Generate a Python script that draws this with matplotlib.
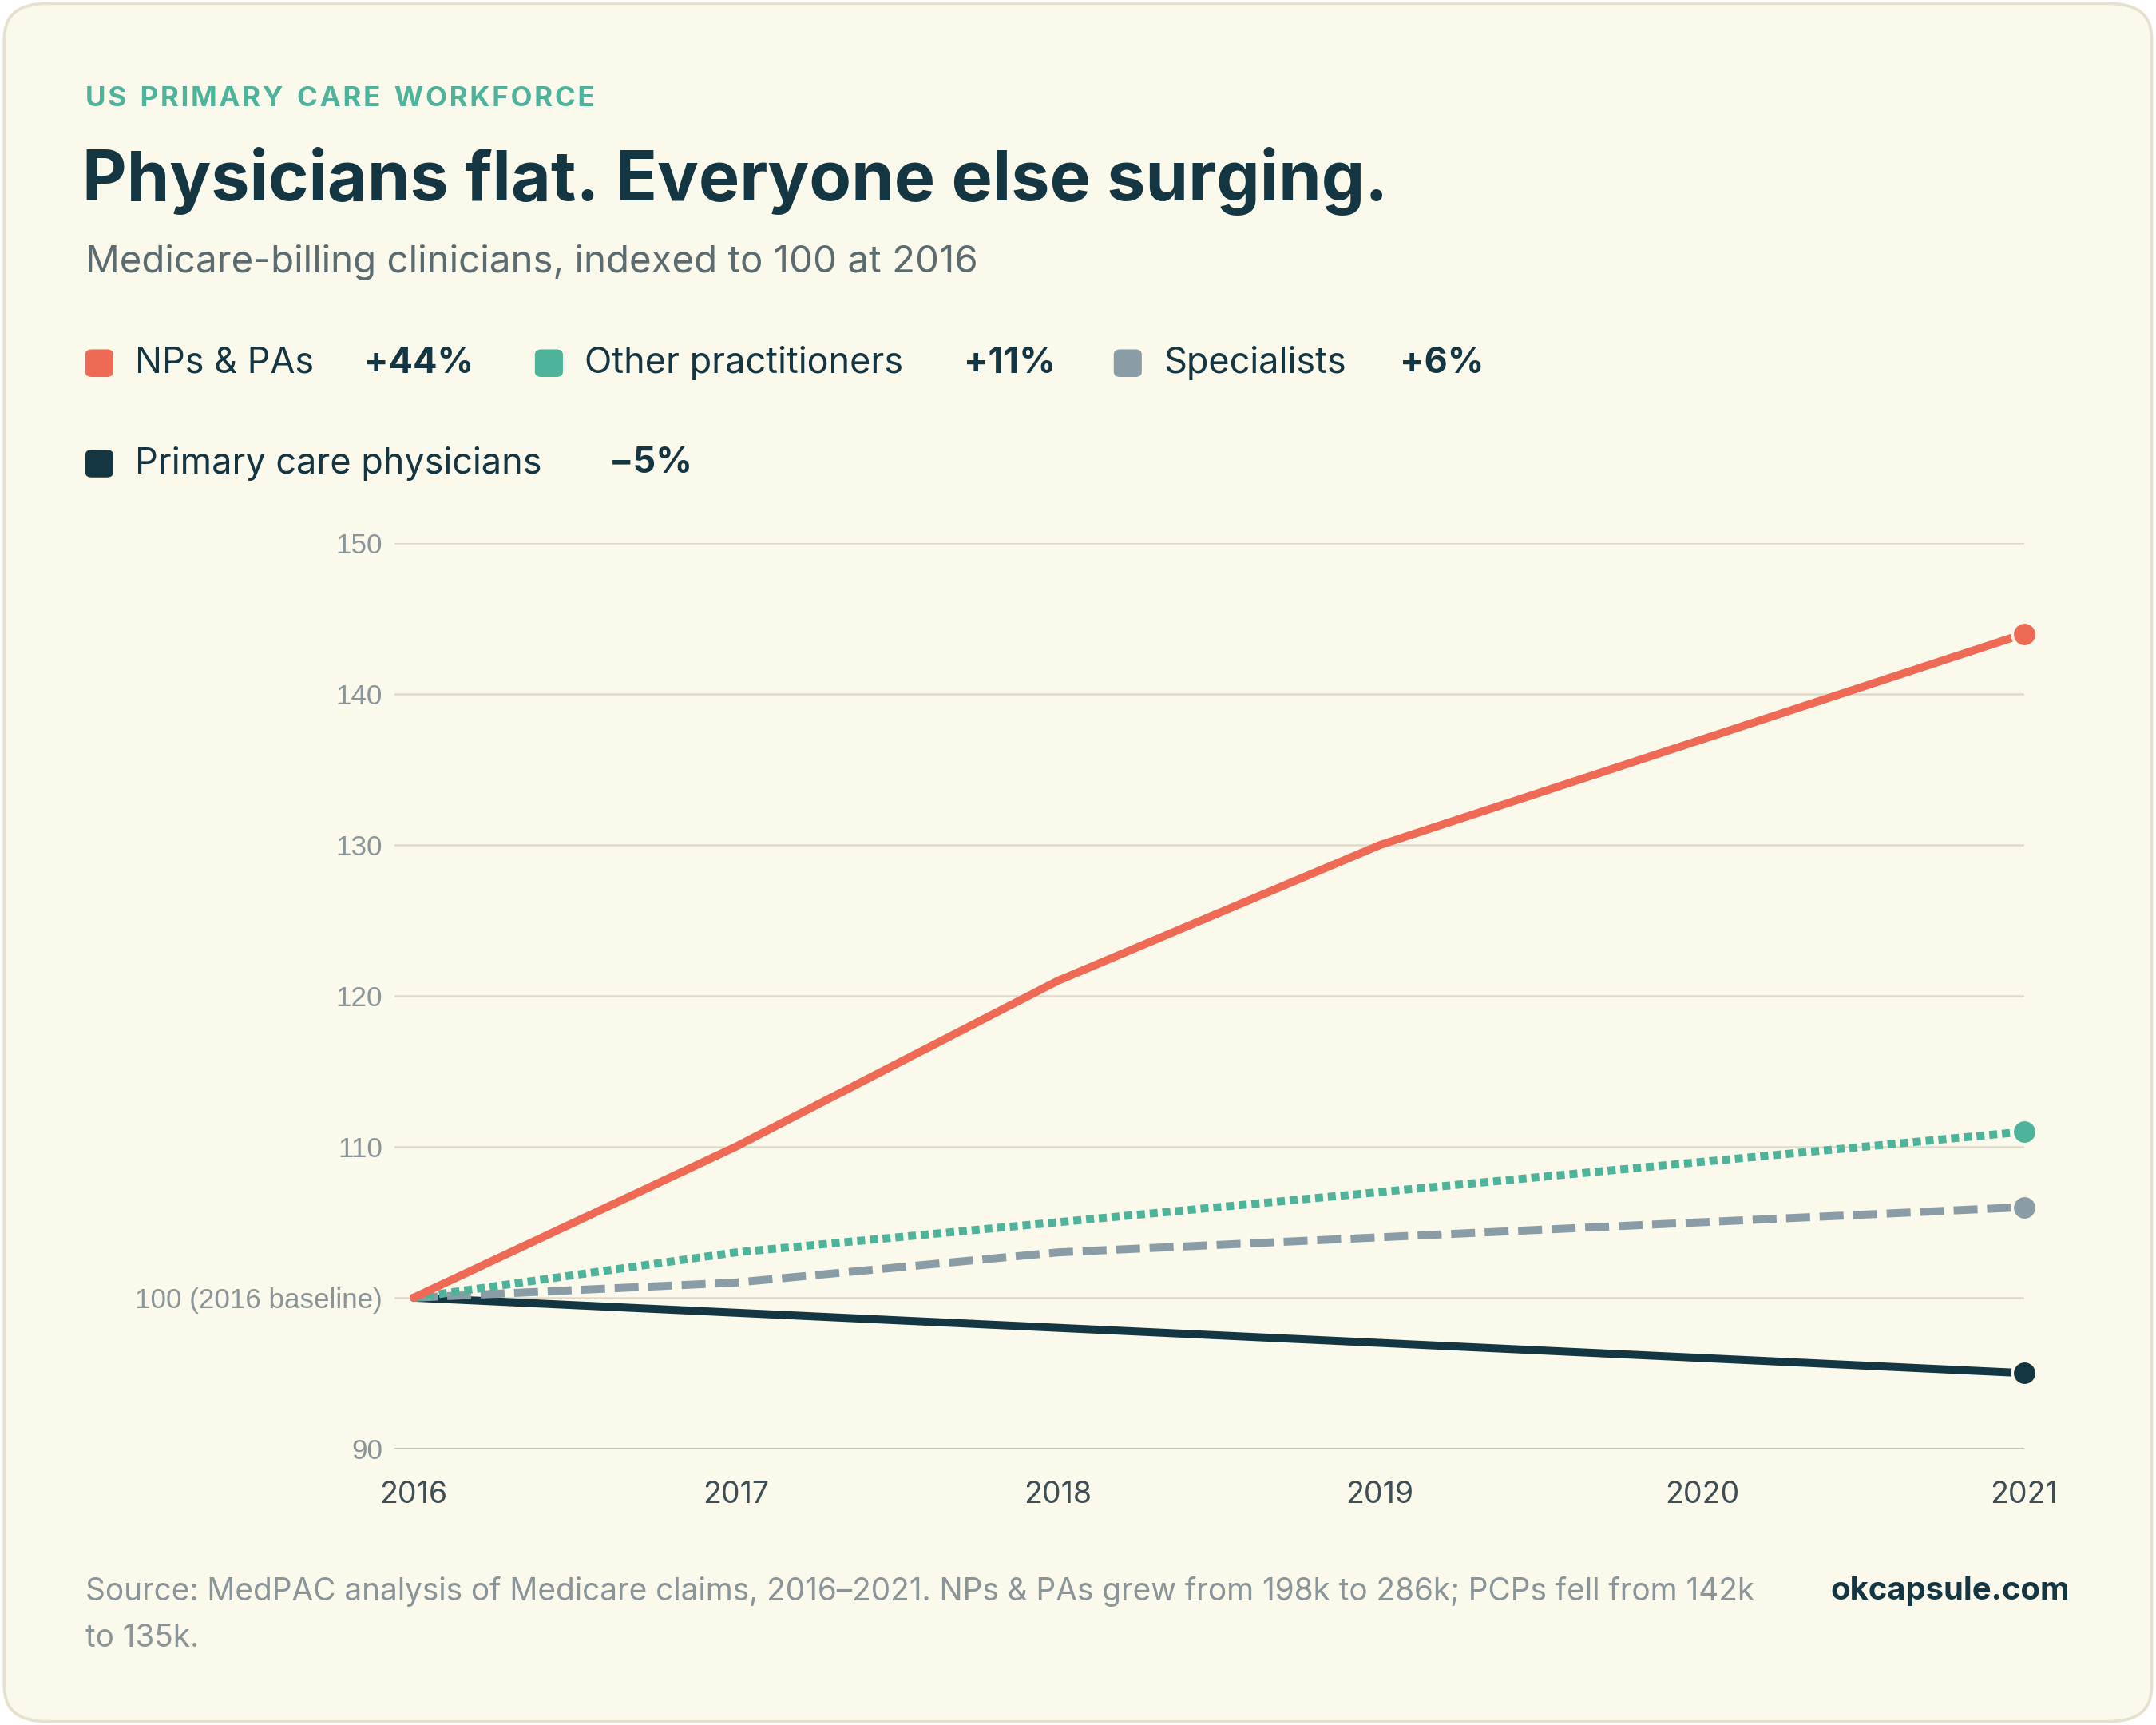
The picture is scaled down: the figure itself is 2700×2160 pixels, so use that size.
import matplotlib.pyplot as plt
from matplotlib.patches import FancyBboxPatch

years = [2016, 2017, 2018, 2019, 2020, 2021]
np_pa = [100, 110, 121, 130, 137, 144]
other = [100, 103, 105, 107, 109, 111]
specialists = [100, 101, 103, 104, 105, 106]
pcp = [100, 99, 98, 97, 96, 95]

y_ticks = [90, 100, 110, 120, 130, 140, 150]
y_labels = ["90", "100 (2016 baseline)", "110", "120", "130", "140", "150"]

BG = "#FBF8EC"
DARK = "#143642"
RED = "#EE6A55"
TEAL = "#4DB39A"
GRAY = "#8A9DA6"
MUTED = "#8A959A"

plt.rcParams['font.family'] = ['Inter', 'DejaVu Sans']

fig = plt.figure(figsize=(15, 12), dpi=180)
fig.patch.set_facecolor("white")
box = FancyBboxPatch((0.002, 0.002), 0.996, 0.996, boxstyle="round,pad=0,rounding_size=0.02",
                     transform=fig.transFigure, facecolor=BG, edgecolor="#E6E1CF", lw=1.5, zorder=-5)
fig.patches.append(box)

W, H = 1568, 1254
def fx(x): return x / W
def fy(y): return 1 - y / H

overline = "   ".join("\u200a".join(w) for w in "US PRIMARY CARE WORKFORCE".split())
fig.text(fx(62), fy(72), overline.replace("   ", "\u2002"),
         color=TEAL, fontsize=14, fontweight="bold", va="center")
fig.text(fx(60), fy(132), "Physicians flat. Everyone else surging.", color=DARK, fontsize=34.5,
         fontweight="bold", va="center")
fig.text(fx(62), fy(191), "Medicare-billing clinicians, indexed to 100 at 2016", color="#5B6B70",
         fontsize=19, va="center")

legend = [
    (62, 264, RED, "NPs & PAs", 265, "+44%"),
    (389, 264, TEAL, "Other practitioners", 701, "+11%"),
    (810, 264, GRAY, "Specialists", 1018, "+6%"),
    (62, 337, DARK, "Primary care physicians", 443, "\u22125%"),
]
for x, y, c, lab, vx, val in legend:
    fig.patches.append(FancyBboxPatch((fx(x), fy(y) - 0.008), 0.013, 0.016,
                                      boxstyle="round,pad=0,rounding_size=0.003",
                                      transform=fig.transFigure, facecolor=c, edgecolor="none"))
    fig.text(fx(x + 36), fy(y), lab, color=DARK, fontsize=18, va="center")
    fig.text(fx(vx), fy(y), val, color=DARK, fontsize=18, fontweight="bold", va="center")

ax = fig.add_axes([fx(287), fy(1053), fx(1472) - fx(287), fy(395) - fy(1053)])
ax.set_facecolor("none")
pad = (287 - 273) / (1472 - 287) * 5
ax.set_xlim(2016 - pad, 2021)
ax.set_ylim(90, 150)
for s in ax.spines.values():
    s.set_visible(False)
ax.set_yticks(y_ticks)
ax.set_yticklabels(y_labels, family="Liberation Sans", color=MUTED, fontsize=14)
ax.set_xticks(years)
ax.set_xticklabels([str(y) for y in years], color="#3E4E54", fontsize=15)
ax.tick_params(length=0, axis="y", pad=6)
ax.tick_params(length=0, axis="x", pad=16)
ax.grid(axis="y", color="#DEDACB", lw=1)
ax.axhline(90, color="#B9C2C4", lw=1.2)

series = [(pcp, DARK, "-"), (specialists, GRAY, (0, (3, 1.2))), (other, TEAL, (0, (1, 0.6))), (np_pa, RED, "-")]
for vals, c, ls in series:
    ax.plot(years, vals, color=c, lw=4, ls=ls, solid_capstyle="round", zorder=3)
    ax.scatter([years[-1]], [vals[-1]], s=150, color=c, edgecolor=BG, linewidth=1.5, zorder=4, clip_on=False)

fig.text(fx(62), fy(1157), "Source: MedPAC analysis of Medicare claims, 2016\u20132021. NPs & PAs grew from 198k to 286k; PCPs fell from 142k",
         color=MUTED, fontsize=15.5, va="center")
fig.text(fx(62), fy(1191), "to 135k.", color=MUTED, fontsize=15.5, va="center")
fig.text(fx(1505), fy(1157), "okcapsule.com", color=DARK, fontsize=16, fontweight="bold", va="center", ha="right")

fig.savefig("out.png", dpi=180, facecolor="white")
